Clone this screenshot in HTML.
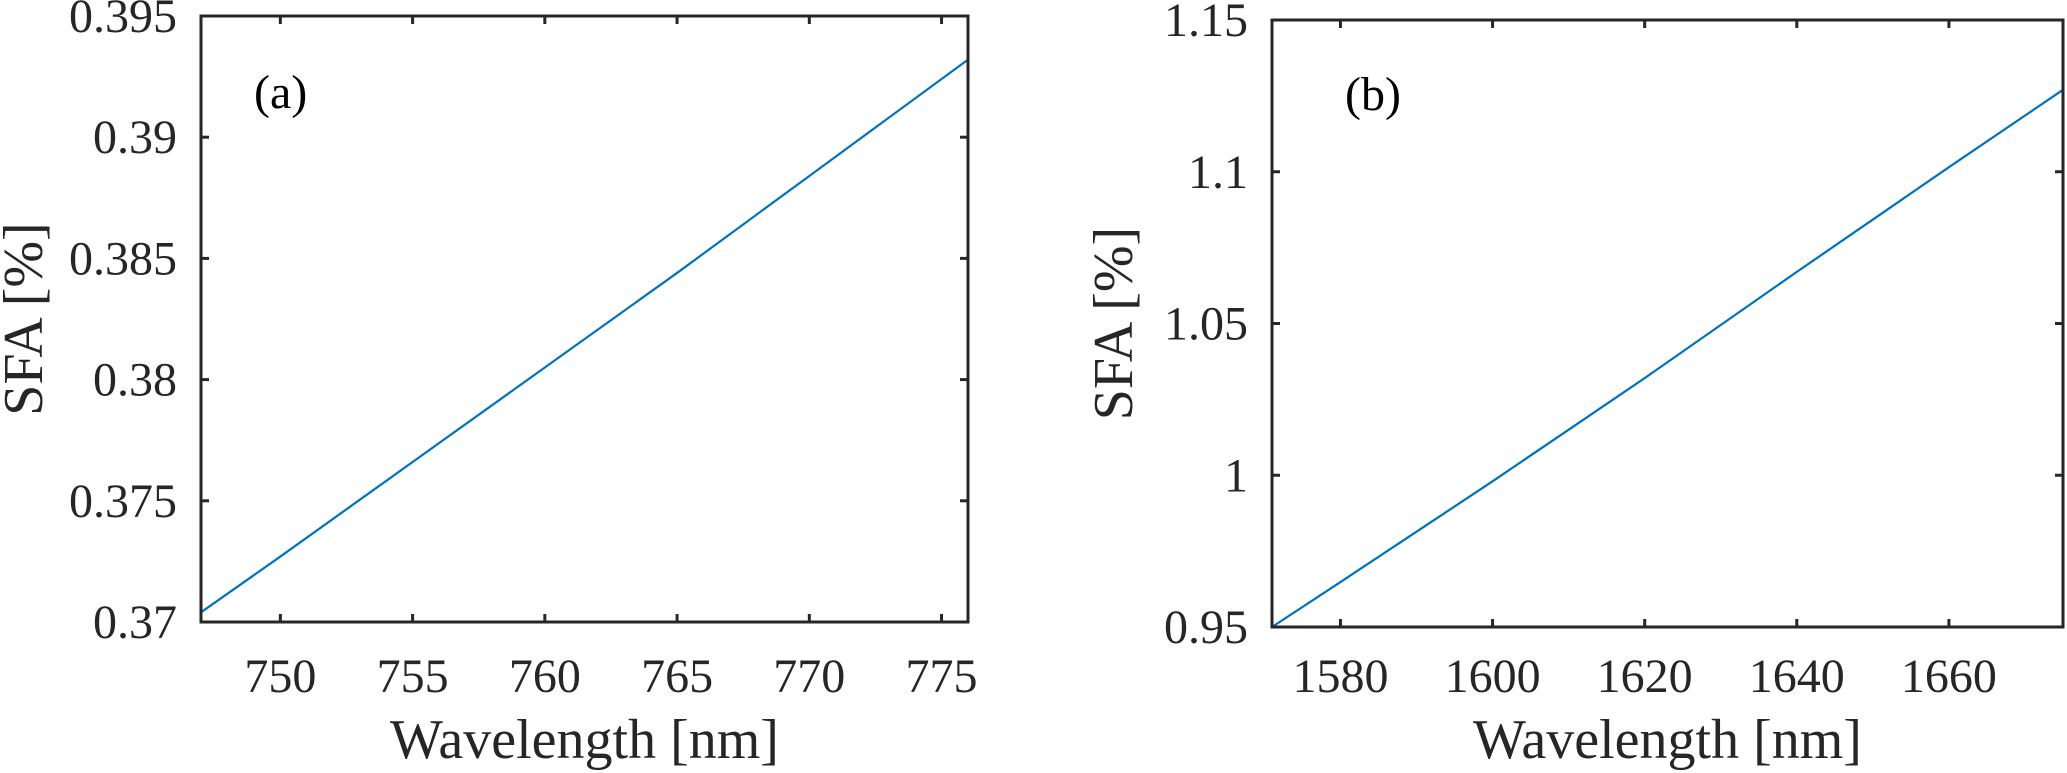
<!DOCTYPE html>
<html><head><meta charset="utf-8"><style>
html,body{margin:0;padding:0;background:#fff;}
svg{display:block;font-family:"Liberation Serif",serif;}
</style></head><body>
<svg id="fig" width="2067" height="773" viewBox="0 0 2067 773"></svg>
<script>
const aX=[747,750,755,760,765,770,776];
const aY=[0.3704,0.3727,0.3766,0.3805,0.3844,0.3884,0.3932];
const aXTicks=[750,755,760,765,770,775];
const aYTicks=[0.37,0.375,0.38,0.385,0.39,0.395];
const aYLabels=["0.37","0.375","0.38","0.385","0.39","0.395"];
const bX=[1571,1580,1600,1620,1640,1660,1675];
const bY=[0.950,0.9648,0.998,1.032,1.067,1.1015,1.127];
const bXTicks=[1580,1600,1620,1640,1660];
const bYTicks=[0.95,1.0,1.05,1.1,1.15];
const bYLabels=["0.95","1","1.05","1.1","1.15"];

const NS="http://www.w3.org/2000/svg";
const svg=document.getElementById('fig');
function mk(tag,attrs,parent){const e=document.createElementNS(NS,tag);for(const k in attrs)e.setAttribute(k,attrs[k]);(parent||svg).appendChild(e);return e;}

function panel(p){
  const g=mk('g',{});
  
  
  const sx=v=>p.L+(v-p.xmin)/(p.xmax-p.xmin)*(p.R-p.L);
  const sy=v=>p.B-(v-p.ymin)/(p.ymax-p.ymin)*(p.B-p.T);
  let d='';p.xs.forEach((x,i)=>{d+=(i?'L':'M')+sx(x).toFixed(2)+','+sy(p.ys[i]).toFixed(2);});
  const ln=mk('path',{d:d,fill:'none',stroke:'#0072BD','stroke-width':2.2,'stroke-linejoin':'round'},g);
  
  
  p.xt.forEach(v=>{const x=sx(v);
    mk('line',{x1:x,x2:x,y1:p.B,y2:p.B-8,stroke:'#262626','stroke-width':3},g);
    mk('line',{x1:x,x2:x,y1:p.T,y2:p.T+8,stroke:'#262626','stroke-width':3},g);
    const t=mk('text',{x:x,y:692,'font-size':48,'text-anchor':'middle',fill:'#262626'},g);
    t.textContent=String(v);
    
    
  });
  p.yt.forEach((v,i)=>{const y=sy(v);
    mk('line',{x1:p.L,x2:p.L+8,y1:y,y2:y,stroke:'#262626','stroke-width':3},g);
    mk('line',{x1:p.R,x2:p.R-8,y1:y,y2:y,stroke:'#262626','stroke-width':3},g);
    const t=mk('text',{x:p.L-24,y:y+16,'font-size':48,'text-anchor':'end',fill:'#262626'},g);
    t.textContent=p.yl[i];
    
    
  });
  const box=mk('rect',{x:p.L,y:p.T,width:p.R-p.L,height:p.B-p.T,fill:'none',stroke:'#262626','stroke-width':3},g);
  
  
  const xt=mk('text',{x:(p.L+p.R)/2,y:758,'font-size':56,'text-anchor':'middle',fill:'#262626'},g);
  xt.textContent='Wavelength [nm]';
  
  
  const cy=(p.T+p.B)/2;
  const yt=mk('text',{x:p.ylx,y:cy,'font-size':56,'text-anchor':'middle',fill:'#262626',transform:'rotate(-90 '+p.ylx+' '+cy+')'},g);
  yt.textContent='SFA [%]';
  
  
  const pl=mk('text',{x:p.lx,y:p.ly,'font-size':48,fill:'#000'},g);
  pl.textContent=p.label;
  
  
}
panel({name:'panel-a',L:201,R:968,T:16,B:622,xmin:747,xmax:776,ymin:0.37,ymax:0.395,xs:aX,ys:aY,xt:aXTicks,yt:aYTicks,yl:aYLabels,ylx:42,lx:254,ly:108,label:'(a)'});
panel({name:'panel-b',L:1272,R:2063,T:20,B:627,xmin:1571,xmax:1675,ymin:0.95,ymax:1.15,xs:bX,ys:bY,xt:bXTicks,yt:bYTicks,yl:bYLabels,ylx:1132,lx:1345,ly:110,label:'(b)'});
</script>
</body></html>
